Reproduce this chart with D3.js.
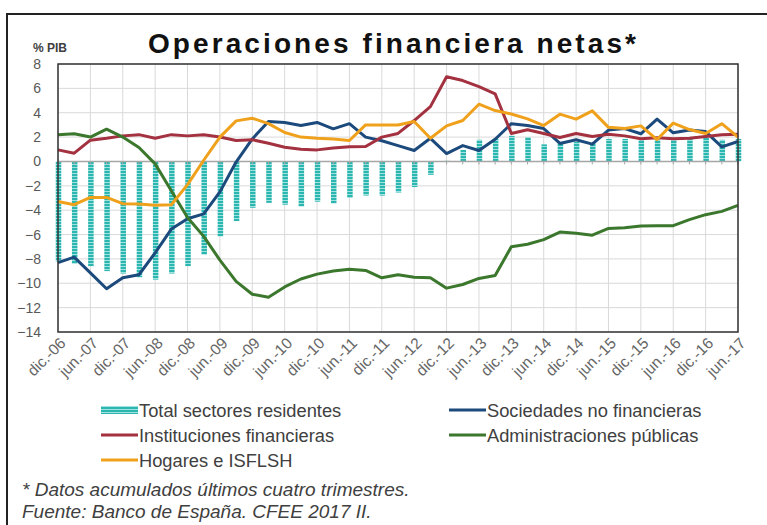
<!DOCTYPE html>
<html>
<head>
<meta charset="utf-8">
<script src="https://cdn.jsdelivr.net/npm/d3@7"></script>
<style>
  body { margin: 0; background: #fff; }
  svg { display: block; font-family: "Liberation Sans", Arial, sans-serif; }
</style>
</head>
<body>
<div id="chart"></div>
<script>
// ---- data (quarterly, dic.-06 .. jun.-17) ----
const tickLabels = ['dic.-06', 'jun.-07', 'dic.-07', 'jun.-08', 'dic.-08', 'jun.-09', 'dic.-09', 'jun.-10',
    'dic.-10', 'jun.-11', 'dic.-11', 'jun.-12', 'dic.-12', 'jun.-13', 'dic.-13', 'jun.-14',
    'dic.-14', 'jun.-15', 'dic.-15', 'jun.-16', 'dic.-16', 'jun.-17'];

const totalSectores = [-8.2, -8.4, -8.6, -9.0, -9.2, -9.5, -9.7, -9.2, -8.6, -7.65, -6.15, -4.9, -3.8, -3.4,
    -3.55, -3.7, -3.3, -3.45, -3.0, -2.8, -2.8, -2.55, -2.1, -1.1, 0.05, 0.95, 1.78, 1.86, 2.1, 2.0,
    1.4, 1.6, 1.6, 1.5, 1.85, 1.85, 1.78, 1.78, 1.78, 1.9, 2.05, 1.78, 1.85];

const sociedades = [-8.3, -7.85, -9.15, -10.45, -9.55, -9.3, -7.5, -5.55, -4.7, -4.3, -2.5, -0.05, 1.85, 3.28,
    3.2, 2.95, 3.2, 2.68, 3.1, 2.0, 1.7, 1.3, 0.9, 1.9, 0.65, 1.3, 0.9, 1.82, 3.1, 2.95,
    2.7, 1.48, 1.78, 1.42, 2.58, 2.7, 2.27, 3.48, 2.35, 2.58, 2.45, 1.2, 1.64];

const instituciones = [0.95, 0.68, 1.75, 1.9, 2.1, 2.2, 1.9, 2.2, 2.1, 2.2, 2.0, 1.72, 1.78, 1.5,
    1.17, 1.0, 0.95, 1.1, 1.2, 1.23, 2.0, 2.3, 3.36, 4.5, 6.95, 6.64, 6.15, 5.55, 2.3, 2.6,
    2.3, 1.97, 2.3, 2.05, 2.24, 2.1, 1.86, 1.95, 1.86, 1.9, 2.05, 2.2, 2.24];

const administraciones = [2.2, 2.27, 2.0, 2.65, 2.0, 1.15, -0.2, -2.4, -4.6, -6.15, -8.1, -9.85, -10.9, -11.15,
    -10.3, -9.65, -9.25, -9.0, -8.85, -8.95, -9.55, -9.3, -9.5, -9.55, -10.4, -10.1, -9.6, -9.37, -7.0, -6.8,
    -6.42, -5.8, -5.9, -6.05, -5.5, -5.45, -5.3, -5.27, -5.27, -4.78, -4.37, -4.1, -3.6];

const hogares = [-3.28, -3.55, -2.95, -2.95, -3.47, -3.5, -3.6, -3.55, -1.9, 0.1, 2.0, 3.33, 3.55, 3.1,
    2.38, 2.0, 1.9, 1.85, 1.72, 3.0, 3.0, 3.0, 3.28, 1.9, 2.92, 3.36, 4.7, 4.18, 3.9, 3.5,
    2.95, 3.88, 3.47, 4.15, 2.8, 2.7, 2.92, 1.8, 3.15, 2.62, 2.3, 3.1, 2.0];

const yTicks = d3.range(-14, 9, 2);

const lineSeries = [
    { name: 'Sociedades no financieras', values: sociedades, color: '#1c4a7c' },
    { name: 'Instituciones financieras', values: instituciones, color: '#a3313f' },
    { name: 'Administraciones públicas', values: administraciones, color: '#3b772c' },
    { name: 'Hogares e ISFLSH', values: hogares, color: '#f0a11c' }
];

// ---- layout ----
const W = 767, H = 525;
const plot = { left: 58, right: 738, top: 64, bottom: 332 };
const barColor = '#2bb6b0';
const fontFam = '"Liberation Sans", Arial, sans-serif';

const svg = d3.select('#chart').append('svg').attr('width', W).attr('height', H);

const defs = svg.append('defs');
const pat = defs.append('pattern')
    .attr('id', 'bar-stripes')
    .attr('patternUnits', 'userSpaceOnUse')
    .attr('width', 4).attr('height', 3);
pat.append('rect').attr('width', 4).attr('height', 3).attr('fill', barColor);
pat.append('rect').attr('y', 2).attr('width', 4).attr('height', 0.8).attr('fill', '#bfeceb');

// outer frame
svg.append('rect')
    .attr('x', 7).attr('y', 14).attr('width', 800).attr('height', 600)
    .attr('fill', 'none').attr('stroke', '#222').attr('stroke-width', 2);

const x = d3.scaleLinear().domain([0, totalSectores.length - 1]).range([plot.left, plot.right]);
const y = d3.scaleLinear().domain([-14, 8]).range([plot.bottom, plot.top]);

// gridlines
const grid = svg.append('g');
grid.selectAll('.hgrid').data(yTicks).join('line')
    .attr('x1', plot.left).attr('x2', plot.right)
    .attr('y1', d => y(d)).attr('y2', d => y(d))
    .attr('stroke', '#d9d9d9').attr('stroke-width', 1);
grid.selectAll('.vgrid').data(tickLabels).join('line')
    .attr('x1', (d, i) => x(i * 2)).attr('x2', (d, i) => x(i * 2))
    .attr('y1', plot.top).attr('y2', plot.bottom)
    .attr('stroke', '#d9d9d9').attr('stroke-width', 1);

// bars
const barW = 5.5;
svg.append('g').selectAll('rect').data(totalSectores).join('rect')
    .attr('x', (d, i) => x(i) - barW / 2 + 0.5)
    .attr('width', barW)
    .attr('y', d => y(Math.max(0, d)))
    .attr('height', d => Math.abs(y(d) - y(0)))
    .attr('fill', 'url(#bar-stripes)');

// zero line with small ticks
svg.append('line')
    .attr('x1', plot.left).attr('x2', plot.right)
    .attr('y1', y(0)).attr('y2', y(0))
    .attr('stroke', '#a6a6a6').attr('stroke-width', 1.5);
svg.append('g').selectAll('line').data(totalSectores).join('line')
    .attr('x1', (d, i) => x(i)).attr('x2', (d, i) => x(i))
    .attr('y1', y(0)).attr('y2', y(0) + 3)
    .attr('stroke', '#a6a6a6').attr('stroke-width', 1);

// lines
const line = d3.line().x((d, i) => x(i)).y(d => y(d));
svg.append('g').selectAll('path').data(lineSeries).join('path')
    .attr('d', d => line(d.values))
    .attr('fill', 'none')
    .attr('stroke', d => d.color)
    .attr('stroke-width', 3)
    .attr('stroke-linejoin', 'round');

// plot border
svg.append('rect')
    .attr('x', plot.left).attr('y', plot.top)
    .attr('width', plot.right - plot.left).attr('height', plot.bottom - plot.top)
    .attr('fill', 'none').attr('stroke', '#333').attr('stroke-width', 1.5);

// y axis
const yAxis = svg.append('g')
    .attr('transform', `translate(${plot.left - 14},0)`)
    .call(d3.axisLeft(y).tickValues(yTicks).tickSize(0).tickFormat(d3.format('d')));
yAxis.select('.domain').remove();
yAxis.selectAll('text')
    .style('font-size', '14px').style('fill', '#595959')
    .style('font-family', fontFam);

// x axis
const xAxis = svg.append('g')
    .attr('transform', `translate(0,${plot.bottom})`)
    .call(d3.axisBottom(x)
        .tickValues(d3.range(0, totalSectores.length, 2))
        .tickSize(0)
        .tickFormat(d => tickLabels[d / 2]));
xAxis.select('.domain').remove();
xAxis.selectAll('text')
    .attr('text-anchor', 'end')
    .attr('dy', '0')
    .attr('transform', 'translate(6,10) rotate(-45)')
    .style('font-size', '15.5px').style('fill', '#666')
    .style('font-family', fontFam);

// title and unit
svg.append('text')
    .attr('x', 148).attr('y', 53)
    .attr('textLength', 488).attr('lengthAdjust', 'spacing')
    .style('font-family', fontFam)
    .style('font-weight', 'bold').style('font-size', '28px').style('fill', '#111')
    .text('Operaciones financiera netas*');

svg.append('text')
    .attr('x', 33).attr('y', 52)
    .style('font-size', '12px').style('font-weight', 'bold').style('fill', '#404040')
    .text('% PIB');

// legend
const legendItems = [
    { name: 'Total sectores residentes', type: 'bar', col: 0, row: 0 },
    { name: lineSeries[0].name, color: lineSeries[0].color, col: 1, row: 0 },
    { name: lineSeries[1].name, color: lineSeries[1].color, col: 0, row: 1 },
    { name: lineSeries[2].name, color: lineSeries[2].color, col: 1, row: 1 },
    { name: lineSeries[3].name, color: lineSeries[3].color, col: 0, row: 2 }
];
const legend = svg.append('g');
const lg = legend.selectAll('g').data(legendItems).join('g')
    .attr('transform', d => `translate(${d.col === 0 ? 101 : 449},${410 + d.row * 25})`);
lg.filter(d => d.type === 'bar').append('rect')
    .attr('x', 0).attr('y', -4).attr('width', 37).attr('height', 8)
    .attr('fill', 'url(#bar-stripes)');
lg.filter(d => d.type !== 'bar').append('line')
    .attr('x1', 0).attr('x2', 37).attr('y1', 0).attr('y2', 0)
    .attr('stroke', d => d.color).attr('stroke-width', 3);
lg.append('text')
    .attr('x', 38).attr('y', 6.5)
    .style('font-size', '18.3px').style('fill', '#404040')
    .text(d => d.name);

// notes
const notes = ['* Datos acumulados últimos cuatro trimestres.', 'Fuente: Banco de España. CFEE 2017 II.'];
svg.append('g').selectAll('text').data(notes).join('text')
    .attr('x', 22).attr('y', (d, i) => 496 + i * 22)
    .style('font-size', '19px').style('font-style', 'italic').style('fill', '#404040')
    .text(d => d);
</script>
</body>
</html>
